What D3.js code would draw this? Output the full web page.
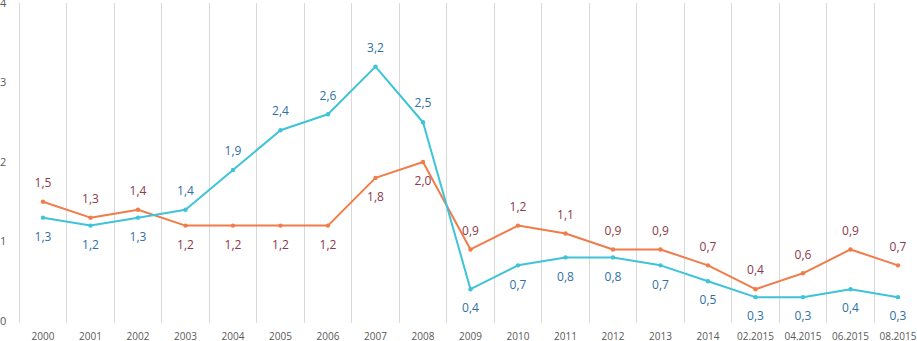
<!DOCTYPE html>
<html><head><meta charset="utf-8">
<script src="https://cdn.jsdelivr.net/npm/d3@7"></script>
<style>
html,body{margin:0;padding:0;background:#fff;}
svg{display:block;font-family:"Open Sans","Liberation Sans",sans-serif;}
</style></head>
<body>
<svg id="chart" width="917" height="341"></svg>
<script>
const categories = ["2000","2001","2002","2003","2004","2005","2006","2007","2008","2009","2010","2011","2012","2013","2014","02.2015","04.2015","06.2015","08.2015"];
const blueValues = [1.3,1.2,1.3,1.4,1.9,2.4,2.6,3.2,2.5,0.4,0.7,0.8,0.8,0.7,0.5,0.3,0.3,0.4,0.3];
const orangeValues = [1.5,1.3,1.4,1.2,1.2,1.2,1.2,1.8,2.0,0.9,1.2,1.1,0.9,0.9,0.7,0.4,0.6,0.9,0.7];
// label placement: 1 = above, -1 = below
const blueLabelPos = [-1,-1,-1,1,1,1,1,1,1,-1,-1,-1,-1,-1,-1,-1,-1,-1,-1];
const orangeLabelPos = [1,1,1,-1,-1,-1,-1,-1,-1,1,1,1,1,1,1,1,1,1,1];
const yTicks = [0,1,2,3,4];

const svg = d3.select("#chart");
const x = d3.scaleBand().domain(categories).range([19.25, 921.75]);
const y = d3.scaleLinear().domain([0,4]).range([321, 3]);
const cx = d => x(d) + x.bandwidth()/2;

// vertical grid lines at band boundaries
svg.append("g").selectAll("line").data(categories).join("line")
  .attr("x1", d => x(d)).attr("x2", d => x(d))
  .attr("y1", y(4)).attr("y2", y(0)+2)
  .attr("stroke", "#d9d9d9").attr("stroke-width", 1).attr("shape-rendering","crispEdges");

// y tick labels
svg.append("g").selectAll("text").data(yTicks).join("text")
  .attr("x", 0).attr("y", d => y(d)).attr("dy", "0.35em")
  .attr("font-size", 11).attr("fill", "#595959").text(d => d);

// x category labels
svg.append("g").selectAll("text").data(categories).join("text")
  .attr("x", d => cx(d)).attr("y", 336).attr("dy", "0.35em")
  .attr("text-anchor", "middle").attr("font-size", 10).attr("fill", "#595959").text(d => d);

function drawSeries(values, pos, lineColor, labelColor) {
  const data = categories.map((c,i) => ({c, v: values[i], p: pos[i]}));
  const line = d3.line().x(d => cx(d.c)).y(d => y(d.v));
  svg.append("path").datum(data).attr("d", line)
    .attr("fill","none").attr("stroke", lineColor).attr("stroke-width", 2).attr("stroke-linejoin","round");
  svg.append("g").selectAll("circle").data(data).join("circle")
    .attr("cx", d => cx(d.c)).attr("cy", d => y(d.v)).attr("r", 2.2).attr("fill", lineColor);
  svg.append("g").selectAll("text").data(data).join("text")
    .attr("x", d => cx(d.c)).attr("y", d => y(d.v) - d.p*19).attr("dy","0.35em")
    .attr("text-anchor","middle").attr("font-size", 12).attr("fill", labelColor)
    .text(d => d3.format(".1f")(d.v).replace(".", ","));
}

drawSeries(orangeValues, orangeLabelPos, "#f07c4a", "#8c3a4a");
drawSeries(blueValues, blueLabelPos, "#3fc3d8", "#2f6fa6");
</script>
</body></html>
